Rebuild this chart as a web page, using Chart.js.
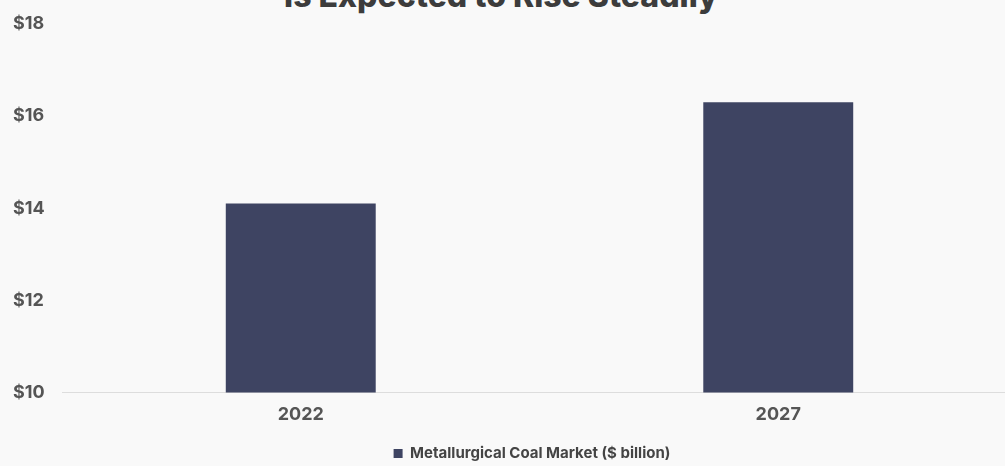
<!DOCTYPE html>
<html>
<head>
<meta charset="utf-8">
<title>Metallurgical Coal Market</title>
<script src="https://cdn.jsdelivr.net/npm/chart.js@4"></script>
<style>
    html, body {
        margin: 0;
        padding: 0;
        width: 1005px;
        height: 466px;
        overflow: hidden;
        background: #f9f9f9;
        position: relative;
    }
    #chartTitle {
        position: absolute;
        left: 0;
        top: -20px;
        width: 1002px;
        text-align: center;
        font-family: Inter, "Noto Sans", sans-serif;
        font-weight: 800;
        font-size: 32px;
        line-height: 32px;
        color: #3c3c3c;
        white-space: nowrap;
    }
    #coalChart {
        position: absolute;
        left: 0;
        top: -5px;
    }
</style>
</head>
<body>
<div id="chartTitle"></div>
<canvas id="coalChart" width="1030" height="477"></canvas>
<script>
// Market size by year, $ billion
const years = ['2022', '2027'];
const marketSize = [14.1, 16.3];
const seriesLabel = 'Metallurgical Coal Market ($ billion)';
const chartTitle = 'is Expected to Rise Steadily';

const BAR_COLOR = '#3e4462';
const FONT = 'Inter, "Noto Sans", sans-serif';

document.getElementById('chartTitle').textContent = chartTitle;

// the legend sits a little right of the plot centre
const legendNudge = {
    id: 'legendNudge',
    afterLayout(chart) {
        chart.legend.left += 17;
        chart.legend.right += 17;
    }
};

const ctx = document.getElementById('coalChart').getContext('2d');

new Chart(ctx, {
    type: 'bar',
    data: {
        labels: years,
        datasets: [{
            label: seriesLabel,
            data: marketSize,
            backgroundColor: BAR_COLOR,
            borderWidth: 0,
            barPercentage: 0.314,
            categoryPercentage: 1
        }]
    },
    options: {
        responsive: false,
        devicePixelRatio: 1,
        animation: false,
        layout: {
            padding: { left: 13, right: 13, top: 10, bottom: 1 }
        },
        plugins: {
            legend: {
                position: 'bottom',
                labels: {
                    color: '#444444',
                    boxWidth: 9,
                    boxHeight: 9,
                    padding: 10,
                    font: { family: FONT, size: 15, weight: 'bold' }
                }
            },
            tooltip: { enabled: false }
        },
        scales: {
            x: {
                grid: { display: false, drawTicks: false },
                border: { color: '#dddddd' },
                ticks: {
                    color: '#555555',
                    padding: 11,
                    font: { family: FONT, size: 18, weight: 'bold' }
                }
            },
            y: {
                min: 10,
                max: 18,
                grid: { display: false, drawTicks: false },
                border: { display: false },
                afterFit: (scale) => { scale.width = 49; },
                ticks: {
                    stepSize: 2,
                    color: '#555555',
                    padding: 18,
                    crossAlign: 'far',
                    font: { family: FONT, size: 18, weight: 'bold' },
                    callback: (value) => '$' + value
                }
            }
        }
    },
    plugins: [legendNudge]
});
</script>
</body>
</html>
